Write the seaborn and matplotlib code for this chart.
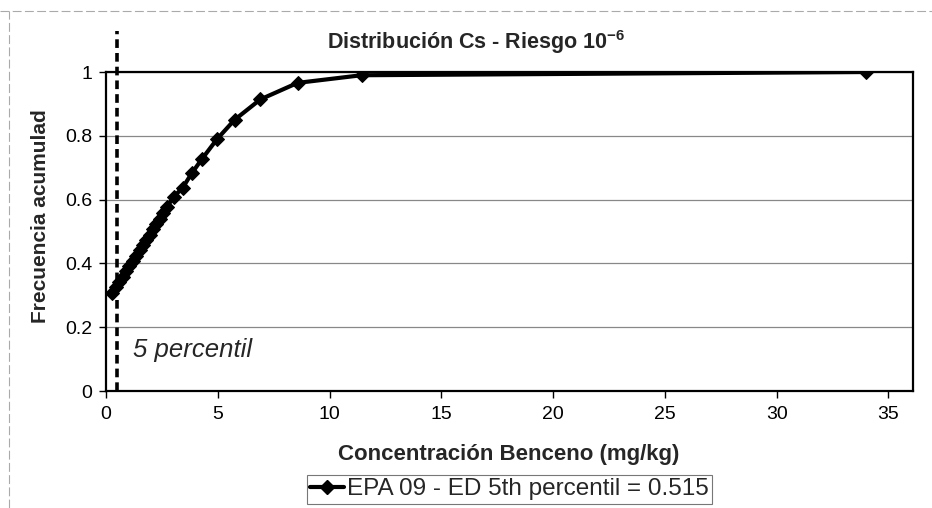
import pandas as pd
import matplotlib
matplotlib.use('Agg')
import matplotlib.pyplot as plt
import seaborn as sns
from matplotlib.lines import Line2D

# cumulative distribution of benzene concentration
conc = [0.28, 0.45, 0.6, 0.75, 0.9, 1.05, 1.2, 1.35, 1.5, 1.65, 1.8, 1.95,
        2.1, 2.25, 2.4, 2.55, 2.74, 3.03, 3.43, 3.83, 4.3, 4.96, 5.75, 6.9,
        8.57, 11.43, 34.0]
freq = [0.306, 0.325, 0.341, 0.358, 0.375, 0.391, 0.408, 0.424, 0.441, 0.457,
        0.474, 0.49, 0.507, 0.524, 0.54, 0.557, 0.578, 0.609, 0.637, 0.682,
        0.728, 0.789, 0.85, 0.914, 0.966, 0.99, 1.0]
p5 = 0.515
x_ticks = [0, 5, 10, 15, 20, 25, 30, 35]
y_ticks = [0, 0.2, 0.4, 0.6, 0.8, 1]
y_labels = ['0', '0.2', '0.4', '0.6', '0.8', '1']

df = pd.DataFrame({'conc': conc, 'freq': freq})

sns.set_theme(style="white")
plt.rcParams['font.family'] = ['Liberation Sans', 'DejaVu Sans']
plt.rcParams['mathtext.fontset'] = 'custom'
plt.rcParams['mathtext.rm'] = 'Liberation Sans'
plt.rcParams['mathtext.bf'] = 'Liberation Sans:bold'

fig = plt.figure(figsize=(9.32, 5.08), dpi=100)
ax = fig.add_axes([0.1137, 0.2303, 0.866, 0.6279])

sns.lineplot(data=df, x='conc', y='freq', ax=ax, color='black', linewidth=3,
             marker='D', markersize=7.5, markeredgecolor='black', zorder=3)

# 5th percentile marker line
ax.plot([p5, p5], [0, 1.13], color='black', linestyle=(0, (2.4, 1.4)),
        linewidth=2.6, clip_on=False, zorder=4)
ax.text(1.2, 0.13, '5 percentil', fontsize=18.5, style='italic', va='center')

ax.set_xlim(0, 36.1)
ax.set_ylim(0, 1)
ax.set_xticks(x_ticks)
ax.set_yticks(y_ticks)
ax.set_yticklabels(y_labels)
ax.tick_params(labelsize=14, colors='black', length=5, width=1, direction='out')
ax.tick_params(axis='x', bottom=True, pad=6)
ax.tick_params(axis='y', left=True, pad=5)
ax.yaxis.grid(True, color='#888888', linewidth=0.9)
ax.xaxis.grid(False)
for s in ax.spines.values():
    s.set_color('black')
    s.set_linewidth(1.6)

ax.set_title(r'Distribución Cs - Riesgo 10$^{\mathbf{-6}}$', fontsize=15.5,
             fontweight='bold', x=0.4585, y=1.094, pad=0, va='center')
ax.set_xlabel('Concentración Benceno (mg/kg)', fontsize=16, fontweight='bold')
ax.xaxis.set_label_coords(0.4994, -0.2006)
ax.xaxis.label.set_va('center')
ax.set_ylabel('Frecuencia acumulad', fontsize=15, fontweight='bold')
ax.yaxis.set_label_coords(-0.0815, 0.549)
ax.yaxis.label.set_va('center')

handle = Line2D([], [], color='black', linewidth=3, marker='D', markersize=7)
leg = fig.legend([handle], ['EPA 09 - ED 5th percentil = 0.515'],
                 loc='center', bbox_to_anchor=(0.5465, 0.037), fontsize=17.5,
                 frameon=True, fancybox=False, handlelength=1.4,
                 handletextpad=0.1, borderpad=0.15, borderaxespad=0)
leg.get_frame().set_edgecolor('#555555')
leg.get_frame().set_linewidth(0.8)

# faint scan border
fig.add_artist(Line2D([0, 1], [0.978, 0.978], color='#aaaaaa', linewidth=0.8,
                      linestyle=(0, (8, 3))))
fig.add_artist(Line2D([0.01, 0.01], [0, 0.978], color='#aaaaaa', linewidth=0.8,
                      linestyle=(0, (8, 3))))

plt.savefig('out.png', dpi=100)
plt.close()
